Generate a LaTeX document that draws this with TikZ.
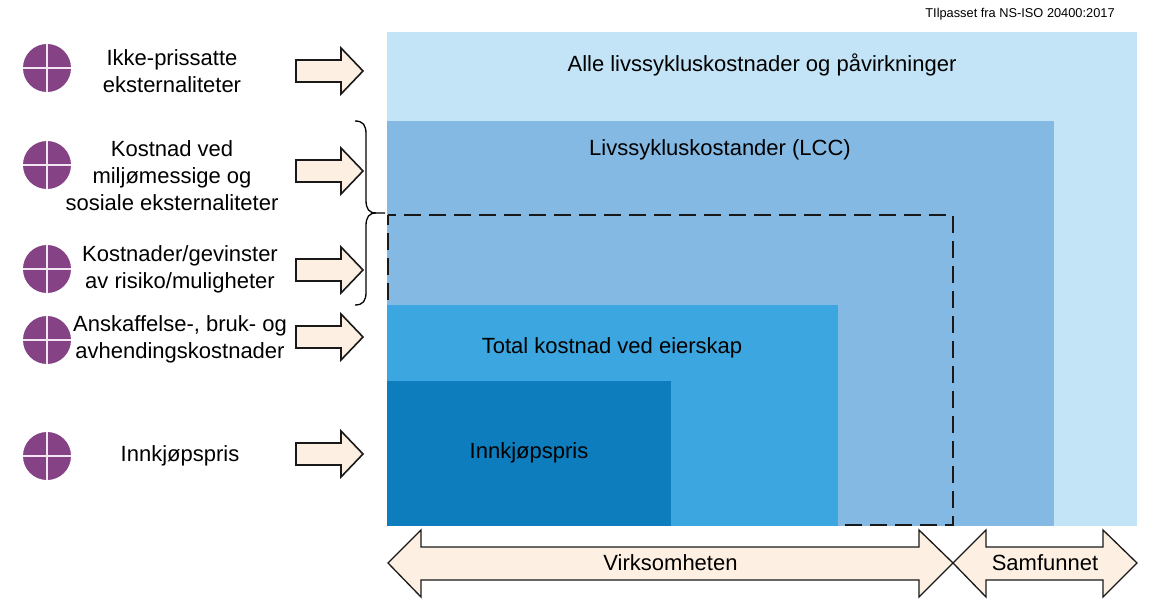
\documentclass[tikz,border=0pt]{standalone}
\usepackage{fontspec}
\setmainfont{Liberation Sans}
\definecolor{cLight}{HTML}{C3E3F6}
\definecolor{cMid}{HTML}{84B9E3}
\definecolor{cBlue}{HTML}{3BA6DF}
\definecolor{cDark}{HTML}{0D7DBE}
\definecolor{cArrow}{HTML}{FDF0E2}
\definecolor{cPurple}{HTML}{854285}
\definecolor{cCross}{HTML}{F1E6F1}
\tikzset{
  lbl/.style={font=\fontsize{22}{27}\selectfont,align=center,text=black,inner sep=0pt},
  blk/.style={draw=black!90,line width=1.6pt,fill=cArrow,line join=miter},
  bigarrow/.style={draw=black!90,line width=1.3pt,fill=cArrow,line join=miter},
  brace/.style={draw=black,line width=1.3pt},
  ballcross/.style={draw=cCross,line width=1.3pt},
  dashline/.style={draw=black!90,line width=1.9pt},
}
\newcommand{\ball}[2]{%
  \fill[cPurple] (47,#1) circle[radius=24];
  \draw[ballcross] (23,#1) -- (71,#1) (47,#1-24) -- (47,#1+24);
  \coordinate (#2) at (47,#1);}
\newcommand{\blockarrow}[1]{%
  \draw[blk] (296,#1-11) -- (341,#1-11) -- (341,#1-23) -- (363,#1) -- (341,#1+23) -- (341,#1+11) -- (296,#1+11) -- cycle;}
\begin{document}
\begin{tikzpicture}[x=1pt,y=-1pt]
\useasboundingbox (0,0) rectangle (1150,612);
\fill[white] (0,0) rectangle (1150,612);
\fill[cLight] (387,32) rectangle (1137,526);
\fill[cMid] (387,121) rectangle (1054,526);
\fill[cBlue] (387,305) rectangle (838,526);
\fill[cDark] (387,381) rectangle (671,526);
\draw[dashline,dash pattern=on 17pt off 8pt,dash phase=9pt] (388,215) -- (953,215) -- (953,525) -- (838,525);
\draw[dashline,dash pattern=on 17pt off 8pt,dash phase=7pt] (388,215) -- (388,305);
\node[font=\fontsize{12.8}{15}\selectfont,inner sep=0pt] (src) at (1020,14.5) {TIlpasset fra NS-ISO 20400:2017};
\node[lbl] (t1) at (762,65) {Alle livssykluskostnader og påvirkninger};
\node[lbl] (t2) at (720,149.5) {Livssykluskostander (LCC)};
\node[lbl] (t3) at (612,348) {Total kostnad ved eierskap};
\node[lbl] (t4) at (529,453) {Innkjøpspris};
\ball{68}{b1}\ball{165}{b2}\ball{269}{b3}\ball{340}{b4}\ball{456}{b5}
\node[lbl] (l1) at (172,71) {Ikke-prissatte\\eksternaliteter};
\node[lbl] (l2) at (172,176) {Kostnad ved\\miljømessige og\\sosiale eksternaliteter};
\node[lbl] (l3) at (180,269) {Kostnader/gevinster\\av risiko/muligheter};
\node[lbl] (l4) at (180,339) {Anskaffelse-, bruk- og\\avhendingskostnader};
\node[lbl] (l5) at (180,456) {Innkjøpspris};
\blockarrow{71}\blockarrow{171}\blockarrow{270}\blockarrow{337}\blockarrow{454}
\draw[brace] (355,121) .. controls (363,121) and (366,125) .. (366,134) -- (366,200) .. controls (366,209) and (369,213) .. (376,213) -- (385,213);
\draw[brace] (376,213) .. controls (369,213) and (366,217) .. (366,226) -- (366,292) .. controls (366,301) and (363,305) .. (355,305);
\draw[bigarrow] (388,563) -- (421,530) -- (421,547) -- (919,547) -- (919,530) -- (953,563) -- (919,597) -- (919,580) -- (421,580) -- (421,597) -- cycle;
\draw[bigarrow] (953,563) -- (986,530) -- (986,547) -- (1103,547) -- (1103,530) -- (1137,563) -- (1103,597) -- (1103,580) -- (986,580) -- (986,597) -- cycle;
\node[lbl] (v) at (670.5,562.5) {Virksomheten};
\node[lbl] (s) at (1045,562.5) {Samfunnet};
\end{tikzpicture}
\end{document}
